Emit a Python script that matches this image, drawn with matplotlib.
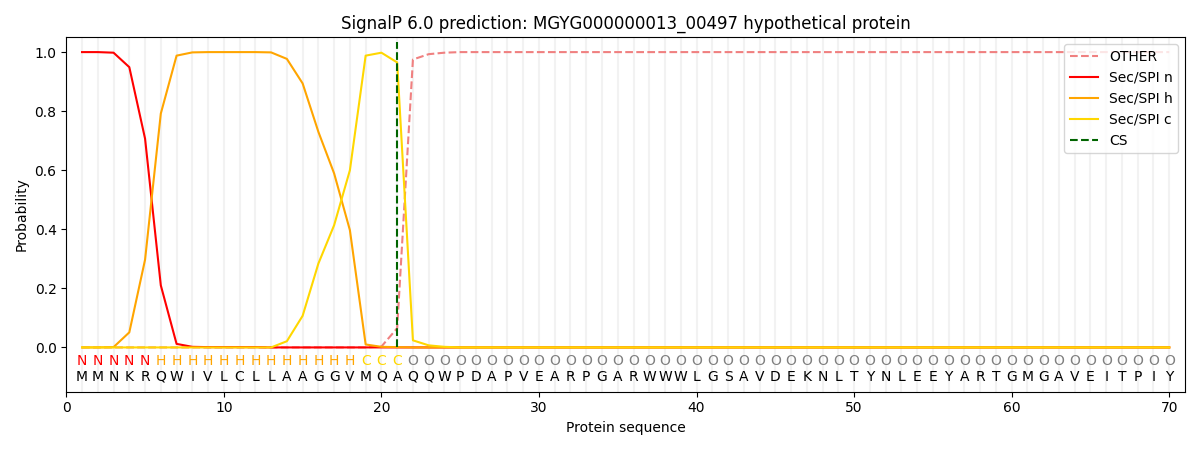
import matplotlib
matplotlib.use("Agg")
import matplotlib.pyplot as plt
import numpy as np

sequence = "MMNKRQWIVLCLLAAGGVMQAQQWPDAPVEARPGARWWWLGSAVDEKNLTYNLEEYARTGMGAVEITPIY"
regions = "NNNNN" + "H" * 13 + "CCC" + "O" * 49

# probabilities, positions 1..70
sp_n = [1.0, 1.0, 0.998, 0.949, 0.707, 0.21, 0.012, 0.002, 0.001, 0.001,
        0.001, 0.001, 0.0, 0.0, 0.0, 0.0, 0.0, 0.0, 0.0, 0.0, 0.0] + [0.0] * 49
sp_h = [0.0, 0.0, 0.001, 0.051, 0.297, 0.792, 0.988, 0.999, 1.0, 1.0,
        1.0, 1.0, 0.999, 0.977, 0.894, 0.73, 0.589, 0.397, 0.01, 0.002, 0.001] + [0.0] * 49
sp_c = [0.0] * 13 + [0.021, 0.107, 0.284, 0.414, 0.6, 0.988, 0.998, 0.965,
                     0.024, 0.007, 0.002] + [0.0] * 46
other = [0.0] * 19 + [0.003, 0.065, 0.975, 0.993, 0.998] + [1.0] * 46
cs_pos = 21

pos = np.arange(1, len(sequence) + 1)
region_colors = {"N": "red", "H": "orange", "C": "gold", "O": "grey"}

fig, ax = plt.subplots(figsize=(12, 4.5), dpi=100)

for p in pos:
    ax.axvline(p, color="#f2f2f2", lw=1.5, zorder=0)

ax.plot(pos, other, "--", color="lightcoral", label="OTHER")
ax.plot(pos, sp_n, color="red", label="Sec/SPI n")
ax.plot(pos, sp_h, color="orange", label="Sec/SPI h")
ax.plot(pos, sp_c, color="gold", label="Sec/SPI c")
ax.plot([cs_pos, cs_pos], [0, 1.035], color="darkgreen", ls="--", label="CS")

for p, aa, r in zip(pos, sequence, regions):
    ax.text(p, -0.047, r, color=region_colors[r], ha="center", va="center", fontsize=10)
    ax.text(p, -0.10, aa, color="black", ha="center", va="center", fontsize=10)

ax.set_xlim(0, 71)
ax.set_ylim(-0.15, 1.05)
ax.set_yticks([0.0, 0.2, 0.4, 0.6, 0.8, 1.0])
ax.set_xlabel("Protein sequence")
ax.set_ylabel("Probability")
ax.set_title("SignalP 6.0 prediction: MGYG000000013_00497 hypothetical protein")
ax.legend(loc="upper right")

plt.tight_layout()
plt.savefig("out.png")
